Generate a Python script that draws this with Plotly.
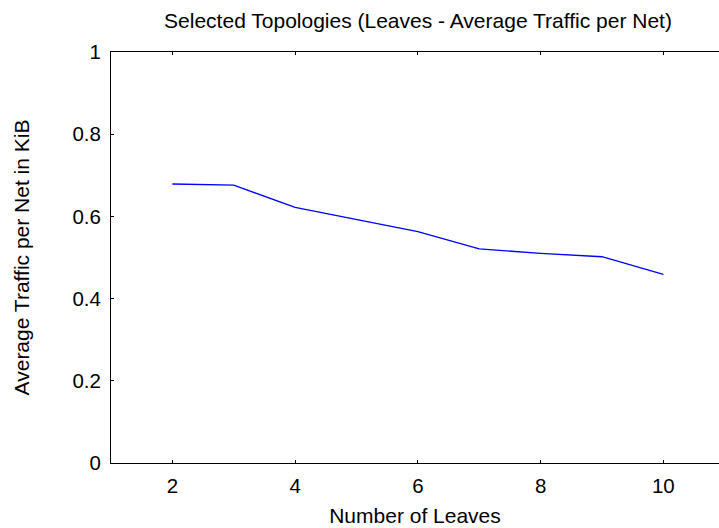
import plotly.graph_objects as go

leaves = [2, 3, 4, 5, 6, 7, 8, 9, 10]
avg_traffic = [0.679, 0.676, 0.622, 0.593, 0.563, 0.521, 0.510, 0.502, 0.459]

x_ticks = [2, 4, 6, 8, 10]
y_ticks = [0, 0.2, 0.4, 0.6, 0.8, 1]
y_tick_text = ["0", "0.2", "0.4", "0.6", "0.8", "1"]

FONT = "Liberation Sans, Arial, sans-serif"

fig = go.Figure()
fig.add_trace(go.Scatter(
    x=leaves, y=avg_traffic, mode="lines",
    line=dict(color="#0000ff", width=1.4),
    showlegend=False, hoverinfo="skip",
))

axis_common = dict(
    showline=True, linecolor="#000000", linewidth=1,
    ticks="inside", ticklen=3, tickwidth=1, tickcolor="#000000",
    showgrid=False, zeroline=False,
    tickfont=dict(family=FONT, size=20.5, color="#000000"),
)

fig.update_layout(
    width=719, height=528,
    margin=dict(l=111, r=0, t=52, b=65, pad=0),
    paper_bgcolor="white", plot_bgcolor="white",
    font=dict(family=FONT, color="#000000"),
    title=dict(
        text="Selected Topologies (Leaves - Average Traffic per Net)",
        font=dict(family=FONT, size=21, color="#000000"),
        x=418 / 719, xref="container", xanchor="center",
        y=1 - 21 / 528, yref="container", yanchor="middle",
    ),
    xaxis=dict(
        range=[1, 10.907], tickvals=x_ticks, ticktext=[str(v) for v in x_ticks],
        mirror="ticks", ticklabelstandoff=4,
        title=dict(text="Number of Leaves", font=dict(family=FONT, size=21), standoff=12),
        **axis_common,
    ),
    yaxis=dict(
        range=[0, 1], tickvals=y_ticks, ticktext=y_tick_text,
        mirror=False, ticklabelstandoff=5,
        title=dict(text="Average Traffic per Net in KiB", font=dict(family=FONT, size=21), standoff=37),
        **axis_common,
    ),
)

fig.write_html("out.html")
